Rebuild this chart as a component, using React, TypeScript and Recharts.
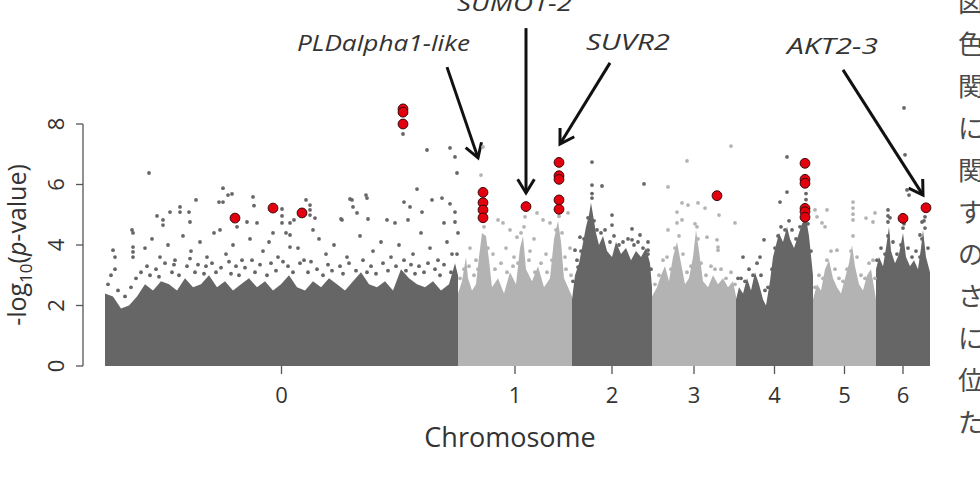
import React from "react";
import {
  ComposedChart,
  Area,
  Scatter,
  XAxis,
  YAxis,
  ReferenceLine,
  ReferenceDot,
} from "recharts";

const FONT = "'Open Sans', 'Noto Sans', sans-serif";
const DARK = "#666666";
const LIGHT = "#b3b3b3";

const chromosomes = ["0", "1", "2", "3", "4", "5", "6"];
// chromosome lengths (Mb), drawn end to end
const chromLengths = [353, 114, 80, 84, 77, 63, 54];

// upper edge of the dense SNP cloud, [position, -log10 p]
const chr0Cloud = [
  [0, 2.4], [8, 2.3], [16, 1.9], [24, 2.0], [32, 2.3], [40, 2.7], [48, 2.5],
  [56, 2.8], [64, 2.7], [72, 2.5], [80, 2.9], [88, 2.6], [96, 2.7], [104, 3.0],
  [112, 2.6], [120, 2.8], [128, 2.5], [136, 2.7], [144, 2.9], [152, 2.6],
  [160, 2.8], [168, 2.5], [176, 2.7], [184, 3.0], [192, 2.6], [200, 2.5],
  [208, 2.8], [216, 2.6], [224, 2.9], [232, 2.7], [240, 2.5], [248, 2.8],
  [256, 3.1], [264, 2.7], [272, 2.6], [280, 2.8], [288, 2.5], [296, 3.2],
  [304, 2.9], [312, 2.7], [320, 2.6], [328, 2.8], [336, 2.5], [344, 2.7],
  [350, 3.4], [353, 3.0],
];
const chr1Cloud = [
  [0, 2.4], [4, 2.8], [8, 3.6], [10, 2.9], [14, 2.5], [18, 2.7], [21, 3.6],
  [24, 4.4], [28, 4.3], [31, 3.5], [34, 2.6], [40, 2.9], [46, 2.4], [52, 3.1],
  [58, 2.7], [62, 3.9], [65, 4.3], [68, 3.2], [74, 2.8], [80, 3.3], [86, 2.6],
  [92, 2.9], [96, 4.2], [100, 4.8], [103, 4.1], [106, 2.9], [110, 2.6], [114, 2.3],
];
const chr2Cloud = [
  [0, 2.2], [3, 3.0], [7, 3.4], [10, 3.9], [14, 4.6], [17, 5.0], [19, 5.4],
  [21, 5.0], [24, 4.4], [27, 4.0], [31, 4.3], [35, 3.8], [40, 3.6], [44, 4.1],
  [49, 3.7], [54, 3.9], [59, 3.5], [64, 3.8], [69, 3.6], [74, 3.9], [78, 3.4], [80, 2.6],
];
const chr3Cloud = [
  [0, 2.3], [5, 2.6], [9, 3.0], [13, 3.3], [17, 2.8], [21, 3.6], [25, 4.1],
  [29, 3.4], [33, 2.7], [37, 2.9], [41, 3.6], [44, 4.5], [47, 3.8], [51, 2.8],
  [56, 2.6], [61, 3.0], [66, 2.7], [71, 2.9], [76, 2.6], [81, 2.8], [84, 2.3],
];
const chr4Cloud = [
  [0, 2.2], [3, 2.6], [7, 2.4], [11, 2.9], [15, 2.5], [19, 3.1], [23, 2.7],
  [27, 2.2], [30, 2.0], [34, 2.8], [37, 3.6], [40, 4.0], [43, 4.4], [47, 4.1],
  [51, 4.6], [54, 4.2], [58, 3.9], [62, 4.3], [66, 4.7], [70, 4.9], [73, 4.3], [77, 3.0],
];
const chr5Cloud = [
  [0, 2.2], [4, 2.7], [8, 2.5], [12, 3.2], [16, 3.5], [20, 2.9], [24, 2.6],
  [28, 2.4], [32, 2.9], [36, 3.4], [39, 4.0], [42, 3.3], [46, 2.7], [50, 2.5],
  [54, 3.0], [58, 3.2], [61, 2.6], [63, 2.2],
];
const chr6Cloud = [
  [0, 3.2], [3, 3.6], [7, 3.3], [10, 3.9], [13, 4.6], [15, 3.8], [19, 3.4],
  [23, 3.7], [27, 4.4], [30, 3.6], [34, 3.3], [38, 3.5], [42, 3.2], [45, 3.9],
  [47, 4.5], [50, 3.6], [54, 3.1],
];
const cloudTops = [chr0Cloud, chr1Cloud, chr2Cloud, chr3Cloud, chr4Cloud, chr5Cloud, chr6Cloud];

// loose SNPs along the ragged top of the cloud: [chromosome index, position, -log10 p]
const cloudFringe = [
  [0, 3, 2.7], [0, 6, 3.0], [0, 13, 2.5], [0, 20, 2.3], [0, 26, 2.6], [0, 31, 2.9],
  [0, 36, 3.1], [0, 42, 3.3], [0, 45, 3.0], [0, 51, 3.2], [0, 54, 2.95], [0, 60, 3.4],
  [0, 67, 3.1], [0, 69, 3.35], [0, 74, 3.0], [0, 82, 3.3], [0, 85, 3.55], [0, 90, 3.1],
  [0, 93, 3.35], [0, 99, 3.05], [0, 101, 3.3], [0, 107, 3.4], [0, 111, 3.1], [0, 116, 3.25],
  [0, 124, 3.45], [0, 126, 3.05], [0, 131, 3.3], [0, 134, 3.0], [0, 140, 3.25], [0, 147, 3.5],
  [0, 150, 3.1], [0, 155, 3.35], [0, 162, 3.0], [0, 166, 3.4], [0, 171, 3.15], [0, 178, 3.45],
  [0, 183, 3.3], [0, 188, 3.1], [0, 195, 3.4], [0, 203, 3.1], [0, 206, 3.45], [0, 212, 3.2],
  [0, 218, 3.0], [0, 223, 3.35], [0, 227, 3.15], [0, 235, 3.3], [0, 238, 3.05], [0, 244, 3.4],
  [0, 251, 3.15], [0, 258, 3.5], [0, 262, 3.1], [0, 266, 3.3], [0, 271, 3.05], [0, 278, 3.4],
  [0, 283, 3.15], [0, 291, 3.3], [0, 299, 3.5], [0, 301, 3.15], [0, 306, 3.35], [0, 310, 3.05],
  [0, 314, 3.3], [0, 319, 3.1], [0, 323, 3.4], [0, 330, 3.2], [0, 335, 3.0], [0, 339, 3.35],
  [0, 346, 3.1], [0, 352, 3.7],
  [1, 2, 2.9], [1, 6, 3.2], [1, 11, 3.3], [1, 16, 3.0], [1, 20, 3.2], [1, 26, 4.6],
  [1, 26, 4.8], [1, 30, 3.9], [1, 37, 3.2], [1, 43, 3.4], [1, 49, 3.1], [1, 55, 3.3],
  [1, 60, 3.4], [1, 63, 4.4], [1, 66, 4.6], [1, 71, 3.5], [1, 77, 3.1], [1, 83, 3.4],
  [1, 89, 3.1], [1, 94, 3.5], [1, 98, 4.5], [1, 101, 4.95], [1, 104, 4.4], [1, 108, 3.2],
  [1, 113, 3.0],
  [2, 1, 2.8], [2, 5, 3.5], [2, 9, 3.8], [2, 12, 4.2], [2, 16, 4.9], [2, 22, 4.8],
  [2, 25, 4.5], [2, 29, 4.4], [2, 33, 4.5], [2, 38, 4.1], [2, 42, 4.3], [2, 47, 4.0],
  [2, 51, 4.1], [2, 56, 4.2], [2, 62, 4.0], [2, 66, 4.1], [2, 71, 3.9], [2, 76, 3.7],
  [2, 79, 3.2],
  [3, 3, 2.7], [3, 7, 3.0], [3, 11, 3.5], [3, 15, 3.6], [3, 19, 3.2], [3, 23, 3.9],
  [3, 27, 4.3], [3, 31, 3.7], [3, 35, 3.1], [3, 39, 3.3], [3, 43, 4.7], [3, 46, 4.2],
  [3, 49, 3.4], [3, 54, 3.0], [3, 59, 3.3], [3, 63, 3.2], [3, 69, 3.2], [3, 74, 2.9],
  [3, 79, 3.1], [3, 83, 2.7],
  [4, 2, 2.9], [4, 5, 2.9], [4, 9, 2.8], [4, 13, 3.2], [4, 17, 3.0], [4, 21, 3.4],
  [4, 25, 3.0], [4, 29, 2.5], [4, 32, 2.6], [4, 36, 3.2], [4, 39, 3.9], [4, 42, 4.3],
  [4, 45, 4.6], [4, 49, 4.5], [4, 53, 4.8], [4, 56, 4.5], [4, 60, 4.2], [4, 64, 4.6],
  [4, 68, 4.9], [4, 72, 4.7], [4, 75, 3.8],
  [5, 2, 2.6], [5, 6, 3.0], [5, 10, 2.9], [5, 14, 3.5], [5, 18, 3.8], [5, 22, 3.2],
  [5, 26, 2.9], [5, 30, 2.8], [5, 34, 3.2], [5, 38, 3.8], [5, 40, 4.3], [5, 44, 3.6],
  [5, 48, 3.0], [5, 52, 2.9], [5, 56, 3.4], [5, 60, 3.5], [5, 62, 2.9],
  [6, 1, 3.5], [6, 5, 3.9], [6, 9, 3.7], [6, 12, 4.3], [6, 14, 4.9], [6, 17, 4.1],
  [6, 21, 3.7], [6, 25, 4.0], [6, 28, 4.7], [6, 32, 3.9], [6, 36, 3.6], [6, 40, 3.8],
  [6, 44, 3.6], [6, 46, 4.2], [6, 48, 4.8], [6, 52, 3.9],
];

// isolated SNPs above the cloud: [chromosome index, position, -log10 p]
const scatteredSnps = [
  [0, 44, 6.38], [0, 118, 5.88], [0, 123, 5.65], [0, 127, 5.69], [0, 148, 5.59],
  [0, 149, 5.3], [0, 91, 5.49], [0, 75, 5.26], [0, 75, 5.09], [0, 65, 5.09],
  [0, 52, 4.96], [0, 114, 5.42], [0, 118, 5.42], [0, 201, 5.49], [0, 177, 5.19],
  [0, 177, 4.96], [0, 205, 5.32], [0, 205, 5.16], [0, 205, 4.99], [0, 247, 5.49],
  [0, 261, 5.65], [0, 262, 5.55], [0, 312, 5.85], [0, 322, 7.14], [0, 345, 7.21],
  [0, 350, 6.91], [0, 352, 6.38], [0, 298, 7.67], [0, 299, 5.42], [0, 327, 5.49],
  [0, 337, 5.55], [0, 345, 5.36], [0, 237, 4.83], [0, 305, 5.26], [0, 58, 4.83],
  [0, 58, 4.66], [0, 85, 4.76], [0, 84, 5.09], [0, 27, 4.5], [0, 28, 4.4],
  [0, 8, 3.83], [0, 10, 3.6], [0, 10, 3.2], [0, 28, 3.93], [0, 28, 3.77],
  [0, 28, 3.6], [0, 177, 4.73], [0, 115, 4.5], [0, 132, 4.6], [0, 142, 4.76],
  [0, 152, 4.73], [0, 168, 4.4], [0, 185, 4.73], [0, 185, 4.33], [0, 185, 3.93],
  [0, 245, 5.52], [0, 248, 5.26], [0, 252, 5.06], [0, 236, 4.86], [0, 263, 4.86],
  [0, 210, 4.89], [0, 208, 4.5], [0, 189, 4.83], [0, 290, 4.73], [0, 303, 4.83],
  [0, 317, 5.09], [0, 339, 4.73], [0, 350, 5.09], [0, 350, 4.76], [0, 353, 4.4],
  [0, 282, 4.83], [0, 40, 3.9], [0, 47, 4.2], [0, 55, 3.6], [0, 63, 4.0],
  [0, 70, 3.5], [0, 78, 4.3], [0, 86, 3.8], [0, 95, 4.1], [0, 102, 3.6],
  [0, 109, 4.4], [0, 121, 3.7], [0, 128, 4.0], [0, 137, 3.5], [0, 145, 4.2],
  [0, 158, 3.8], [0, 164, 4.1], [0, 173, 3.6], [0, 181, 4.4], [0, 193, 3.9],
  [0, 199, 3.5], [0, 214, 4.2], [0, 221, 3.7], [0, 229, 4.0], [0, 242, 3.6],
  [0, 255, 4.3], [0, 268, 3.8], [0, 276, 4.1], [0, 286, 3.6], [0, 294, 4.0],
  [0, 308, 3.7], [0, 316, 4.4], [0, 325, 3.9], [0, 333, 3.5], [0, 342, 4.1],
  [0, 347, 3.7],
  [1, 25, 7.24], [1, 23, 6.31], [1, 40, 4.83], [1, 45, 4.73], [1, 67, 4.93],
  [1, 79, 5.06], [1, 85, 4.83], [1, 110, 5.06], [1, 52, 4.5], [1, 59, 4.26],
  [1, 92, 4.73], [1, 12, 3.9], [1, 18, 3.5], [1, 35, 3.7], [1, 48, 3.9],
  [1, 56, 3.6], [1, 72, 3.8], [1, 76, 4.2], [1, 88, 3.7], [1, 107, 3.6], [1, 112, 3.9],
  [2, 20, 6.74], [2, 20, 5.98], [2, 20, 5.7], [2, 20, 5.55], [2, 30, 5.95],
  [2, 72, 6.02], [2, 40, 4.99], [2, 40, 4.66], [2, 60, 4.53], [2, 8, 4.26],
  [2, 3, 3.83], [2, 6, 3.27], [2, 60, 4.17], [2, 68, 4.33], [2, 76, 4.1], [2, 76, 3.83],
  [3, 35, 6.78], [3, 16, 5.92], [3, 79, 7.27], [3, 30, 5.39], [3, 36, 5.32],
  [3, 46, 5.39], [3, 53, 5.22], [3, 25, 5.09], [3, 67, 4.99], [3, 83, 4.73],
  [3, 66, 3.93], [3, 66, 3.83], [3, 25, 4.73], [3, 30, 4.83], [3, 45, 4.6],
  [3, 55, 4.26], [3, 65, 4.17], [3, 16, 4.5],
  [4, 51, 6.91], [4, 51, 5.75], [4, 44, 5.42], [4, 28, 4.17], [4, 24, 3.6],
  [4, 7, 3.6], [4, 70, 5.7], [4, 70, 5.5],
  [5, 2, 5.16], [5, 4, 4.93], [5, 14, 5.16], [5, 40, 5.42], [5, 40, 5.22],
  [5, 40, 5.02], [5, 40, 4.83], [5, 53, 4.89], [5, 62, 5.06], [5, 9, 4.73],
  [5, 12, 4.6], [5, 24, 3.83], [5, 60, 4.76],
  [6, 28, 8.53], [6, 29, 6.98], [6, 31, 5.82], [6, 33, 5.65], [6, 12, 5.16],
  [6, 12, 4.96], [6, 12, 4.76], [6, 46, 4.76], [6, 49, 4.56], [6, 49, 4.93],
  [6, 27, 4.56], [6, 44, 4.33],
];

// candidate SNPs marked in red: [chromosome index, position, -log10 p]
const leadSnps = [
  [0, 130, 4.89], [0, 168, 5.22], [0, 197, 5.06],
  [0, 298, 8.5], [0, 298, 8.39], [0, 298, 8.0],
  [1, 25, 5.74], [1, 25, 5.4], [1, 25, 5.16], [1, 25, 4.9],
  [1, 68, 5.27],
  [1, 101, 6.73], [1, 101, 6.29], [1, 101, 6.17], [1, 101, 5.49], [1, 101, 5.18],
  [3, 65, 5.63],
  [4, 69, 6.7], [4, 69, 6.17], [4, 69, 6.04], [4, 69, 5.21], [4, 69, 5.1], [4, 69, 4.92],
  [6, 27, 4.88], [6, 50, 5.23],
];

// gene callouts: label anchor and arrow, in genome position / -log10 p
const geneNotes = [
  { gene: "PLDalpha1-like", label: [278.5, 10.41], width: 173, from: [342, 9.88], to: [373, 6.88] },
  { gene: "SUMO1-2", label: [409.5, 11.75], width: 115, from: [421, 11.17], to: [421, 5.72] },
  { gene: "SUVR2", label: [523, 10.45], width: 84, from: [505, 10.02], to: [455, 7.34] },
  { gene: "AKT2-3", label: [727.5, 10.31], width: 91, from: [738, 9.79], to: [818, 5.65] },
];

const yTicks = [0, 2, 4, 6, 8];

// cropped column of body text beside the figure
const sideText = ["図", "色", "関", "に", "関", "す", "の", "さ", "に", "位", "た"];

const offsets = chromLengths.map((_, i) =>
  chromLengths.slice(0, i).reduce((a, b) => a + b, 0)
);
const midpoints = chromLengths.map((len, i) => offsets[i] + len / 2);
const chromColor = (i: number) => (i % 2 === 0 ? DARK : LIGHT);

const toPoints = (rows: number[][]) =>
  rows.map(([chr, pos, p]) => ({ pos: offsets[chr] + pos, p, chr }));

const greySnps = [...cloudFringe, ...scatteredSnps];
const darkSnps = toPoints(greySnps.filter((r) => r[0] % 2 === 0));
const lightSnps = toPoints(greySnps.filter((r) => r[0] % 2 === 1));
const redSnps = toPoints(leadSnps);

const SmallDot = (color: string) => (props: any) =>
  <circle cx={props.cx} cy={props.cy} r={1.9} fill={color} />;

const RedDot = (props: any) => (
  <circle cx={props.cx} cy={props.cy} r={4.9} fill="#e3000f" stroke="#3a0a0a" strokeWidth={1} />
);

const Arrow = (props: any) => {
  const { x1, y1, x2, y2 } = props;
  const ang = Math.atan2(y2 - y1, x2 - x1);
  const len = 16;
  const spread = 0.55;
  const ax = x2 - len * Math.cos(ang - spread);
  const ay = y2 - len * Math.sin(ang - spread);
  const bx = x2 - len * Math.cos(ang + spread);
  const by = y2 - len * Math.sin(ang + spread);
  return (
    <g>
      <line x1={x1} y1={y1} x2={x2} y2={y2} stroke="#111" strokeWidth={3} />
      <polyline
        points={`${ax},${ay} ${x2},${y2} ${bx},${by}`}
        fill="none"
        stroke="#111"
        strokeWidth={3}
        strokeLinejoin="miter"
      />
    </g>
  );
};

const YTick = ({ y, payload }: any) => (
  <text
    x={64}
    y={y}
    transform={`rotate(-90 64 ${y})`}
    textAnchor="middle"
    fontSize={22}
    fontFamily={FONT}
    fill="#333"
  >
    {payload.value}
  </text>
);

const XTick = ({ x, y, index }: any) => (
  <text x={x} y={y + 27} textAnchor="middle" fontSize={22} fontFamily={FONT} fill="#333">
    {chromosomes[index]}
  </text>
);

export default function App() {
  return (
    <div style={{ position: "absolute", left: 0, top: 0, width: 980, height: 495, background: "#fff", overflow: "hidden" }}>
      <ComposedChart width={980} height={495} margin={{ top: 3, right: 40, bottom: 0, left: 0 }}>
        <XAxis
          type="number"
          dataKey="pos"
          domain={[-22, 835]}
          ticks={midpoints}
          interval={0}
          axisLine={false}
          tickLine={{ stroke: "#555", strokeWidth: 1.3 }}
          tickSize={8}
          height={129}
          tick={<XTick />}
        />
        <YAxis
          type="number"
          dataKey="p"
          domain={[0, 12]}
          ticks={yTicks}
          interval={0}
          width={83}
          axisLine={false}
          tickLine={{ stroke: "#555", strokeWidth: 1.3 }}
          tickSize={7}
          tick={<YTick />}
        />
        <ReferenceLine
          segment={[{ x: -22, y: 0 }, { x: -22, y: 8 }]}
          stroke="#555"
          strokeWidth={1.3}
          ifOverflow="visible"
        />
        {cloudTops.map((rows, i) => (
          <Area
            key={chromosomes[i]}
            data={rows.map(([pos, p]) => ({ pos: offsets[i] + pos, p }))}
            dataKey="p"
            type="linear"
            stroke="none"
            fill={chromColor(i)}
            fillOpacity={1}
            isAnimationActive={false}
          />
        ))}
        <Scatter data={darkSnps} dataKey="p" shape={SmallDot(DARK)} isAnimationActive={false} />
        <Scatter data={lightSnps} dataKey="p" shape={SmallDot(LIGHT)} isAnimationActive={false} />
        <Scatter data={redSnps} dataKey="p" shape={RedDot} isAnimationActive={false} />
        {geneNotes.map((n) => (
          <ReferenceLine
            key={n.gene + "-arrow"}
            segment={[{ x: n.from[0], y: n.from[1] }, { x: n.to[0], y: n.to[1] }]}
            ifOverflow="visible"
            shape={Arrow}
          />
        ))}
        {geneNotes.map((n) => (
          <ReferenceDot
            key={n.gene}
            x={n.label[0]}
            y={n.label[1]}
            r={0}
            ifOverflow="visible"
            shape={(p: any) => (
              <text
                x={p.cx}
                y={p.cy}
                textAnchor="middle"
                fontSize={22.5}
                fontStyle="italic"
                fontFamily={FONT}
                fill="#333"
                textLength={n.width}
                lengthAdjust="spacingAndGlyphs"
              >
                {n.gene}
              </text>
            )}
          />
        ))}
      </ComposedChart>
      <svg width={980} height={495} style={{ position: "absolute", left: 0, top: 0, pointerEvents: "none" }}>
        <text x={510} y={447} textAnchor="middle" fontSize={27} fontFamily={FONT} fill="#333">
          Chromosome
        </text>
        <text
          x={26}
          y={245}
          transform="rotate(-90 26 245)"
          textAnchor="middle"
          fontSize={25}
          fontFamily={FONT}
          fill="#333"
        >
          -log
          <tspan fontSize={17} dy={6}>10</tspan>
          <tspan dy={-6}>(</tspan>
          <tspan fontStyle="italic">p</tspan>
          -value)
        </text>
        {sideText.map((ch, i) => (
          <text
            key={i}
            x={958}
            y={12 + 42 * i}
            fontSize={26}
            fontFamily="'Noto Sans CJK JP', sans-serif"
            fill="#4a4a4a"
          >
            {ch}
          </text>
        ))}
      </svg>
    </div>
  );
}
